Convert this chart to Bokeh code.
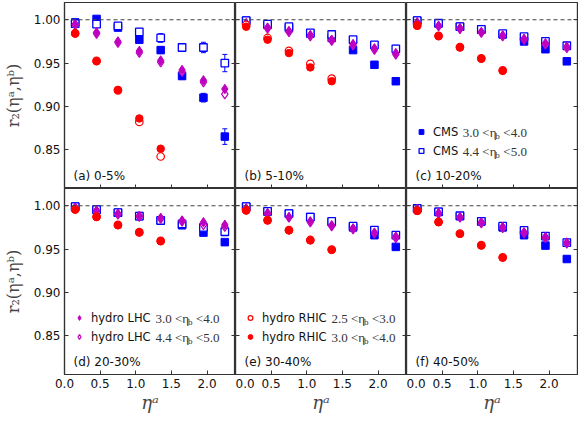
from bokeh.plotting import figure
from bokeh.layouts import gridplot
from bokeh.models import (Span, Label, Legend, LegendItem, FixedTicker, PrintfTickFormatter,
                          CustomJSTickFormatter, Whisker, TeeHead, ColumnDataSource, Range1d, LinearAxis)
from bokeh.embed import file_html
from bokeh.resources import INLINE

# ---------------- data ----------------
eta_a = [0.15, 0.45, 0.75, 1.05, 1.35, 1.65, 1.95, 2.25]
eta_a_rhic = [0.15, 0.45, 0.75, 1.05, 1.35]
panel_labels = ["(a) 0-5%", "(b) 5-10%", "(c) 10-20%", "(d) 20-30%", "(e) 30-40%", "(f) 40-50%"]
x_ticks = [0.0, 0.5, 1.0, 1.5, 2.0]
y_ticks = [0.85, 0.90, 0.95, 1.00]
ref_line = 1.0

# CMS 3.0 < eta_b < 4.0 (filled squares), one list per centrality panel (a..f)
cms_30_40 = [
    [0.997, 1.001, 0.991, 0.977, 0.965, 0.935, 0.910, 0.865],
    [0.999, 0.994, 0.9905, 0.984, 0.979, 0.965, 0.948, 0.929],
    [0.999, 0.996, 0.992, 0.9885, 0.983, 0.975, 0.966, 0.952],
    [0.999, 0.9955, 0.992, 0.988, 0.983, 0.9775, 0.969, 0.958],
    [0.999, 0.9935, 0.991, 0.987, 0.981, 0.975, 0.966, 0.9525],
    [0.997, 0.993, 0.988, 0.982, 0.975, 0.966, 0.954, 0.9385],
]
cms_30_40_err = [
    [0.002, 0.003, 0.003, 0.003, 0.004, 0.004, 0.005, 0.009],
    [0.002, 0.002, 0.002, 0.002, 0.002, 0.003, 0.003, 0.003],
    [0.002, 0.002, 0.002, 0.002, 0.002, 0.003, 0.003, 0.003],
    [0.002, 0.002, 0.002, 0.002, 0.002, 0.003, 0.003, 0.003],
    [0.002, 0.002, 0.002, 0.002, 0.002, 0.003, 0.003, 0.003],
    [0.002, 0.002, 0.002, 0.002, 0.002, 0.003, 0.003, 0.003],
]
# CMS 4.4 < eta_b < 5.0 (open squares)
cms_44_50 = [
    [0.9955, 0.995, 0.993, 0.986, 0.979, 0.968, 0.968, 0.950],
    [0.999, 0.995, 0.992, 0.985, 0.983, 0.977, 0.971, 0.9665],
    [0.999, 0.996, 0.992, 0.989, 0.984, 0.9805, 0.975, 0.970],
    [0.999, 0.9955, 0.992, 0.988, 0.983, 0.979, 0.975, 0.970],
    [0.999, 0.9935, 0.991, 0.987, 0.982, 0.9765, 0.972, 0.966],
    [0.997, 0.993, 0.9885, 0.982, 0.9765, 0.9715, 0.965, 0.9575],
]
cms_44_50_err = [
    [0.002, 0.004, 0.003, 0.004, 0.005, 0.004, 0.006, 0.010],
    [0.002, 0.002, 0.002, 0.003, 0.003, 0.003, 0.003, 0.004],
    [0.002, 0.002, 0.002, 0.003, 0.003, 0.003, 0.003, 0.004],
    [0.002, 0.002, 0.002, 0.003, 0.003, 0.003, 0.003, 0.004],
    [0.002, 0.002, 0.002, 0.003, 0.003, 0.003, 0.003, 0.004],
    [0.002, 0.002, 0.002, 0.003, 0.003, 0.003, 0.003, 0.004],
]
# hydro LHC 3.0 < eta_b < 4.0 (filled diamonds)
lhc_30_40 = [
    [0.995, 0.9855, 0.975, 0.964, 0.953, 0.942, 0.930, 0.920],
    [0.996, 0.991, 0.987, 0.9825, 0.977, 0.972, 0.967, 0.9615],
    [0.997, 0.993, 0.9905, 0.986, 0.982, 0.978, 0.973, 0.969],
    [0.998, 0.9945, 0.991, 0.9885, 0.986, 0.983, 0.981, 0.978],
    [0.997, 0.9915, 0.987, 0.982, 0.9775, 0.974, 0.969, 0.9645],
    [0.9965, 0.9915, 0.987, 0.981, 0.9755, 0.9695, 0.964, 0.9575],
]
lhc_err = [0.003, 0.004, 0.004, 0.004, 0.004, 0.004, 0.004, 0.004]
# hydro LHC 4.4 < eta_b < 5.0 (open diamonds)
lhc_44_50 = [
    [0.994, 0.984, 0.9735, 0.962, 0.951, 0.940, 0.928, 0.914],
    [0.9955, 0.990, 0.986, 0.981, 0.976, 0.9705, 0.9655, 0.960],
    [0.9965, 0.9925, 0.9895, 0.985, 0.981, 0.977, 0.9715, 0.9675],
    [0.9975, 0.994, 0.990, 0.9875, 0.985, 0.982, 0.978, 0.976],
    [0.9965, 0.991, 0.9865, 0.981, 0.9765, 0.973, 0.968, 0.963],
    [0.996, 0.991, 0.9865, 0.980, 0.9745, 0.9685, 0.963, 0.9565],
]
# hydro RHIC 2.5 < eta_b < 3.0 (open circles)
rhic_25_30 = [
    [0.9845, 0.9525, 0.9185, 0.882, 0.842],
    [0.994, 0.979, 0.964, 0.949, 0.932],
    [0.9935, 0.9815, 0.9685, 0.9555, 0.9415],
    [0.996, 0.9875, 0.978, 0.9695, 0.9595],
    [0.995, 0.9835, 0.972, 0.9605, 0.9495],
    [0.9945, 0.9815, 0.968, 0.9545, 0.9405],
]
# hydro RHIC 3.0 < eta_b < 4.0 (filled circles)
rhic_30_40 = [
    [0.984, 0.952, 0.919, 0.886, 0.851],
    [0.992, 0.977, 0.9615, 0.945, 0.929],
    [0.993, 0.981, 0.968, 0.955, 0.941],
    [0.9955, 0.987, 0.9775, 0.969, 0.959],
    [0.9945, 0.983, 0.9715, 0.960, 0.949],
    [0.994, 0.981, 0.9675, 0.954, 0.940],
]

# ---------------- style ----------------
BLUE = "#0000ff"
MAG = "#bf00bf"
RED = "#ff0000"
AX_COL = "#333333"
FW, FH = 171, 186
SANS = "DejaVu Sans"
SERIF_MATH = "Liberation Serif"


def style_axis(ax, is_y, show_labels):
    ax.ticker = FixedTicker(ticks=y_ticks if is_y else x_ticks)
    ax.major_tick_in = 4
    ax.major_tick_out = 0
    ax.minor_tick_line_color = None
    ax.axis_line_color = AX_COL
    ax.axis_line_width = 1.2
    ax.major_tick_line_color = AX_COL
    ax.major_tick_line_width = 1
    ax.major_label_text_font = SANS
    ax.major_label_text_font_size = "12px"
    ax.major_label_text_color = "#111111"
    ax.major_label_standoff = 4
    if show_labels:
        ax.formatter = PrintfTickFormatter(format="%.2f" if is_y else "%.1f")
    else:
        ax.formatter = CustomJSTickFormatter(code="return ''")
        ax.major_label_standoff = 0
        ax.major_label_text_font_size = "1px"


def add_math_legend_text(p, x0, yc, lo, hi):
    # "lo < eta_b < hi" composed from real text pieces
    fs = 13
    part1 = f"{lo} <η"
    p.add_layout(Label(x=x0, y=yc, x_units="screen", y_units="screen", text=part1,
                       text_font=SERIF_MATH, text_font_size=f"{fs}px", text_color="#333333",
                       text_baseline="middle", text_align="left"))
    w1 = fs * 2.5
    p.add_layout(Label(x=x0 + w1, y=yc - 3.5, x_units="screen", y_units="screen", text="b",
                       text_font=SERIF_MATH, text_font_size="9px", text_color="#333333",
                       text_baseline="middle", text_align="left"))
    p.add_layout(Label(x=x0 + w1 + 8, y=yc, x_units="screen", y_units="screen", text=f"<{hi}",
                       text_font=SERIF_MATH, text_font_size=f"{fs}px", text_color="#333333",
                       text_baseline="middle", text_align="left"))


panels = []
for i in range(6):
    row, col = divmod(i, 3)
    p = figure(frame_width=FW, frame_height=FH, x_range=Range1d(0.0, 2.4), y_range=Range1d(0.805, 1.02),
               output_backend="svg", toolbar_location=None, min_border=0)
    p.min_border_top = 2 if row == 0 else 0
    p.min_border_right = 1 if col == 2 else 0
    p.grid.visible = False
    p.outline_line_color = AX_COL
    p.outline_line_width = 1.2
    p.background_fill_color = "white"
    p.border_fill_color = "white"

    style_axis(p.xaxis[0], False, row == 1)
    style_axis(p.yaxis[0], True, col == 0)
    if col == 0:
        p.yaxis.axis_label = "r₂(ηᵃ,ηᵇ)"
        p.yaxis.axis_label_text_font = "DejaVu Serif"
        p.yaxis.axis_label_text_font_style = "normal"
        p.yaxis.axis_label_text_font_size = "16px"
        p.yaxis.axis_label_standoff = 8
    if row == 1:
        p.xaxis.axis_label = "ηᵃ"
        p.xaxis.axis_label_text_font = "DejaVu Serif"
        p.xaxis.axis_label_text_font_style = "italic"
        p.xaxis.axis_label_text_font_size = "18px"
        p.xaxis.axis_label_standoff = 1
    rax = LinearAxis()
    style_axis(rax, True, False)
    p.add_layout(rax, "right")

    p.add_layout(Span(location=ref_line, dimension="width", line_dash="4 3",
                      line_color="#444444", line_width=1.1))

    # CMS error bars
    s1 = ColumnDataSource(dict(x=eta_a, y=cms_30_40[i],
                               lo=[v - e for v, e in zip(cms_30_40[i], cms_30_40_err[i])],
                               hi=[v + e for v, e in zip(cms_30_40[i], cms_30_40_err[i])]))
    s2 = ColumnDataSource(dict(x=eta_a, y=cms_44_50[i],
                               lo=[v - e for v, e in zip(cms_44_50[i], cms_44_50_err[i])],
                               hi=[v + e for v, e in zip(cms_44_50[i], cms_44_50_err[i])]))
    for s in (s1, s2):
        p.add_layout(Whisker(source=s, base="x", upper="hi", lower="lo", level="underlay",
                             line_color=BLUE, line_width=1,
                             upper_head=TeeHead(size=5, line_color=BLUE, line_width=1),
                             lower_head=TeeHead(size=5, line_color=BLUE, line_width=1)))
    r_cms1 = p.scatter("x", "y", source=s1, marker="square", size=7.5,
                       fill_color=BLUE, line_color=BLUE, line_width=1)
    r_cms2 = p.scatter("x", "y", source=s2, marker="square", size=7.5,
                       fill_color="white", line_color=BLUE, line_width=1.3)

    # hydro LHC
    p.segment(x0=eta_a, x1=eta_a, y0=[v - e for v, e in zip(lhc_44_50[i], lhc_err)],
              y1=[v + e for v, e in zip(lhc_44_50[i], lhc_err)], line_color=MAG, line_width=1)
    r_lhc2 = p.scatter(eta_a, lhc_44_50[i], marker="diamond", size=9.5,
                       fill_color="white", line_color=MAG, line_width=1.2)
    p.segment(x0=eta_a, x1=eta_a, y0=[v - e for v, e in zip(lhc_30_40[i], lhc_err)],
              y1=[v + e for v, e in zip(lhc_30_40[i], lhc_err)], line_color=MAG, line_width=1)
    r_lhc1 = p.scatter(eta_a, lhc_30_40[i], marker="diamond", size=9.5,
                       fill_color=MAG, line_color=MAG, line_width=1)

    # hydro RHIC
    r_rhic2 = p.scatter(eta_a_rhic, rhic_25_30[i], marker="circle", size=7.5,
                        fill_color="white", line_color=RED, line_width=1.2)
    r_rhic1 = p.scatter(eta_a_rhic, rhic_30_40[i], marker="circle", size=7.5,
                        fill_color=RED, line_color=RED, line_width=1)

    p.add_layout(Label(x=9, y=13, x_units="screen", y_units="screen", text=panel_labels[i],
                       text_font=SANS, text_font_size="12px", text_color="#111111",
                       text_baseline="middle"))

    legend_rows = None
    if i == 2:
        legend_rows = [("CMS", r_cms1, "3.0", "4.0", 25.3), ("CMS", r_cms2, "4.4", "5.0", 25.3)]
    elif i == 3:
        legend_rows = [("hydro LHC", r_lhc1, "3.0", "4.0", 59.9), ("hydro LHC", r_lhc2, "4.4", "5.0", 59.9)]
    elif i == 4:
        legend_rows = [("hydro RHIC", r_rhic2, "2.5", "3.0", 64.9), ("hydro RHIC", r_rhic1, "3.0", "4.0", 64.9)]
    if legend_rows:
        lx, ly, rowh = 9, 28, 19
        leg = Legend(items=[LegendItem(label=t, renderers=[r]) for t, r, _, _, _ in legend_rows],
                     location=(lx, ly), padding=0, margin=0, spacing=0,
                     glyph_width=12, glyph_height=rowh, label_height=rowh, label_standoff=6,
                     label_text_font=SANS, label_text_font_size="11.5px", label_text_color="#111111",
                     border_line_color=None, background_fill_alpha=0)
        p.add_layout(leg)
        for k, (t, r, lo, hi, w) in enumerate(legend_rows):
            yc = ly + rowh * (len(legend_rows) - k) - rowh / 2
            add_math_legend_text(p, lx + 12 + 6 + w + 4, yc, lo, hi)
    panels.append(p)

grid = gridplot([panels[:3], panels[3:]], toolbar_location=None)

open("out.html", "w").write(file_html(grid, INLINE))
